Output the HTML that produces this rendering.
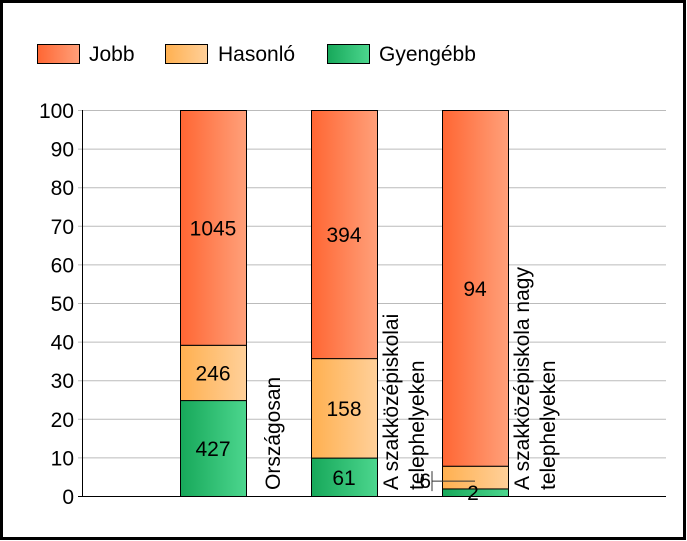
<!DOCTYPE html>
<html><head><meta charset="utf-8"><style>
html,body{margin:0;padding:0;background:#fff}
svg{display:block;font-family:"Liberation Sans",Arial,sans-serif}
</style></head><body>
<svg id="chart" width="687" height="541" viewBox="0 0 687 541">
<defs>
<linearGradient id="gJobb" x1="0" x2="1" y1="0" y2="0"><stop offset="0" stop-color="#ff6633"/><stop offset="1" stop-color="#ffa07a"/></linearGradient>
<linearGradient id="gHas" x1="0" x2="1" y1="0" y2="0"><stop offset="0" stop-color="#ffb050"/><stop offset="1" stop-color="#ffd09a"/></linearGradient>
<linearGradient id="gGy" x1="0" x2="1" y1="0" y2="0"><stop offset="0" stop-color="#17a85a"/><stop offset="1" stop-color="#4cd68e"/></linearGradient>
</defs>
<rect x="1.5" y="1.5" width="683" height="537" fill="#fff" stroke="#000" stroke-width="3"/>
<g>
<g><rect x="37.5" y="44.5" width="42" height="19" fill="url(#gJobb)" stroke="#000"/><text x="89" y="61" font-size="21">Jobb</text></g>
<g><rect x="165.5" y="44.5" width="42" height="19" fill="url(#gHas)" stroke="#000"/><text x="218" y="61" font-size="21">Hasonló</text></g>
<g><rect x="327.5" y="44.5" width="42" height="19" fill="url(#gGy)" stroke="#000"/><text x="379" y="61" font-size="21">Gyengébb</text></g>
</g>
<g id="grid"></g><g id="bars"></g><g id="labels"></g>
</svg>
<script>
const categories=[["Országosan"],["A szakközépiskolai","telephelyeken"],["A szakközépiskola nagy","telephelyeken"]];
const gyengebb=[427,61,2];
const hasonlo=[246,158,6];
const jobb=[1045,394,94];
const ticks=[0,10,20,30,40,50,60,70,80,90,100];
const NS="http://www.w3.org/2000/svg";
const X0=82,X1=666,Y0=496,Y1=110;
const y=v=>Y0-(v/100)*(Y0-Y1);
const barX=i=>180+i*131, BW=66;
function mk(tag,attrs,parent,txt){const e=document.createElementNS(NS,tag);for(const k in attrs)e.setAttribute(k,attrs[k]);if(txt!==undefined)e.textContent=txt;parent.appendChild(e);return e;}
const grid=document.getElementById('grid'),bars=document.getElementById('bars'),labels=document.getElementById('labels');
ticks.forEach(t=>{
 const l=mk('line',{x1:X0-4,x2:X1,y1:y(t)+0.5,y2:y(t)+0.5,stroke:t===0?'#000':'#bbb'},grid);
 
 
 const tx=mk('text',{x:X0-8,y:y(t)+8,'font-size':21,'text-anchor':'end'},grid,String(t));
 
 
});
const ax=mk('line',{x1:X0+0.5,x2:X0+0.5,y1:Y1,y2:Y0,stroke:'#000'},grid);


const fills=['url(#gGy)','url(#gHas)','url(#gJobb)'],names=['gyengebb','hasonlo','jobb'];
categories.forEach((c,i)=>{
 const vals=[gyengebb[i],hasonlo[i],jobb[i]];const tot=vals[0]+vals[1]+vals[2];
 let acc=0;const x=barX(i);
 vals.forEach((v,s)=>{
  const p0=acc/tot*100,p1=(acc+v)/tot*100;acc+=v;
  const r=mk('rect',{x:x+0.5,y:y(p1)+0.5,width:BW,height:y(p0)-y(p1),fill:fills[s],stroke:'#000'},bars);
  
  
  const h=y(p0)-y(p1);let t;
  if(h>25){t=mk('text',{x:x+BW/2,y:(y(p0)+y(p1))/2+8,'font-size':21,'text-anchor':'middle'},labels,String(v));}
  else if(s===0){t=mk('text',{x:x+BW/2-2,y:y(p0)+4,'font-size':21,'text-anchor':'middle'},labels,String(v));}
  else{mk('line',{x1:x-10,x2:x+33,y1:(y(p0)+y(p1))/2+4,y2:(y(p0)+y(p1))/2+4,stroke:'#333'},labels);
   mk('line',{x1:x-10,x2:x-10,y1:(y(p0)+y(p1))/2-6,y2:(y(p0)+y(p1))/2+14,stroke:'#333'},labels);
   t=mk('text',{x:x-11,y:(y(p0)+y(p1))/2+11,'font-size':21,'text-anchor':'end'},labels,String(v));}
  
  
 });
 const g=mk('g',{},labels);
 
 
 const n=c.length;
 c.forEach((line,k)=>{
  const cx=x+BW+26+(k-(n-1)/2)*26;
  mk('text',{x:0,y:0,'font-size':21,transform:`translate(${cx+8},490) rotate(-90)`},g,line);
 });
});
</script>
</body></html>
